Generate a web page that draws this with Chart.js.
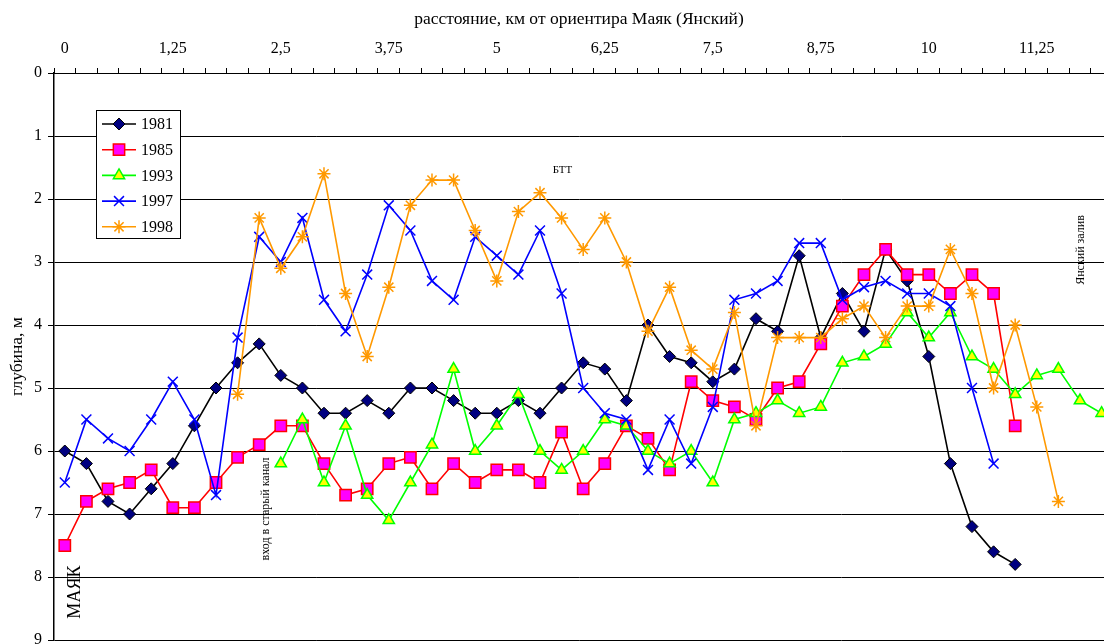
<!DOCTYPE html>
<html>
<head>
<meta charset="utf-8">
<script src="https://cdn.jsdelivr.net/npm/chart.js@4/dist/chart.umd.min.js"></script>
<style>
    html, body { margin: 0; padding: 0; background: #fff; overflow: hidden; }
    #marco { width: 1104px; height: 644px; overflow: hidden; }
</style>
</head>
<body>
<div id="marco"><canvas id="grafico" width="1104" height="644"></canvas></div>
<script>
// distancia desde el faro, km (una muestra cada 0,25 km)
const distancias = [0, 0.25, 0.5, 0.75, 1, 1.25, 1.5, 1.75, 2, 2.25,
    2.5, 2.75, 3, 3.25, 3.5, 3.75, 4, 4.25, 4.5, 4.75,
    5, 5.25, 5.5, 5.75, 6, 6.25, 6.5, 6.75, 7, 7.25,
    7.5, 7.75, 8, 8.25, 8.5, 8.75, 9, 9.25, 9.5, 9.75,
    10, 10.25, 10.5, 10.75, 11, 11.25, 11.5, 11.75, 12];

const valoresX = [0, 1.25, 2.5, 3.75, 5, 6.25, 7.5, 8.75, 10, 11.25];
const etiquetasX = ['0', '1,25', '2,5', '3,75', '5', '6,25', '7,5', '8,75', '10', '11,25'];

const anios = ['1981', '1985', '1993', '1997', '1998'];

// profundidad, m
const prof1981 = [6.0, 6.2, 6.8, 7.0, 6.6, 6.2, 5.6, 5.0, 4.6, 4.3,
    4.8, 5.0, 5.4, 5.4, 5.2, 5.4, 5.0, 5.0, 5.2, 5.4,
    5.4, 5.2, 5.4, 5.0, 4.6, 4.7, 5.2, 4.0, 4.5, 4.6,
    4.9, 4.7, 3.9, 4.1, 2.9, 4.2, 3.5, 4.1, 2.8, 3.3,
    4.5, 6.2, 7.2, 7.6, 7.8];

const prof1985 = [7.5, 6.8, 6.6, 6.5, 6.3, 6.9, 6.9, 6.5, 6.1, 5.9,
    5.6, 5.6, 6.2, 6.7, 6.6, 6.2, 6.1, 6.6, 6.2, 6.5,
    6.3, 6.3, 6.5, 5.7, 6.6, 6.2, 5.6, 5.8, 6.3, 4.9,
    5.2, 5.3, 5.5, 5.0, 4.9, 4.3, 3.7, 3.2, 2.8, 3.2,
    3.2, 3.5, 3.2, 3.5, 5.6];

const prof1993 = [null, null, null, null, null, null, null, null, null, null,
    6.2, 5.5, 6.5, 5.6, 6.7, 7.1, 6.5, 5.9, 4.7, 6.0,
    5.6, 5.1, 6.0, 6.3, 6.0, 5.5, 5.6, 6.0, 6.2, 6.0,
    6.5, 5.5, 5.4, 5.2, 5.4, 5.3, 4.6, 4.5, 4.3, 3.8,
    4.2, 3.8, 4.5, 4.7, 5.1, 4.8, 4.7, 5.2, 5.4];

const prof1997 = [6.5, 5.5, 5.8, 6.0, 5.5, 4.9, 5.5, 6.7, 4.2, 2.6,
    3.0, 2.3, 3.6, 4.1, 3.2, 2.1, 2.5, 3.3, 3.6, 2.6,
    2.9, 3.2, 2.5, 3.5, 5.0, 5.4, 5.5, 6.3, 5.5, 6.2,
    5.3, 3.6, 3.5, 3.3, 2.7, 2.7, 3.6, 3.4, 3.3, 3.5,
    3.5, 3.7, 5.0, 6.2];

const prof1998 = [null, null, null, null, null, null, null, null,
    5.1, 2.3, 3.1, 2.6, 1.6, 3.5, 4.5, 3.4, 2.1, 1.7,
    1.7, 2.5, 3.3, 2.2, 1.9, 2.3, 2.8, 2.3, 3.0, 4.1,
    3.4, 4.4, 4.7, 3.8, 5.6, 4.2, 4.2, 4.2, 3.9, 3.7,
    4.2, 3.7, 3.7, 2.8, 3.5, 5.0, 4.0, 5.3, 6.8];

const series = [prof1981, prof1985, prof1993, prof1997, prof1998];

const estilos = [
    { linea: '#000000', relleno: '#000080', borde: '#000000', punto: 'rectRot', radio: 6, bordePunto: 1 },
    { linea: '#ff0000', relleno: '#ff00ff', borde: '#ff0000', punto: 'rect', radio: 8, bordePunto: 1.5 },
    { linea: '#00ff00', relleno: '#ffff00', borde: '#00ff00', punto: 'triangle', radio: 6.5, bordePunto: 1.5 },
    { linea: '#0000ff', relleno: '#0000ff', borde: '#0000ff', punto: 'crossRot', radio: 7, bordePunto: 1.5 },
    { linea: '#ff9900', relleno: '#ff9900', borde: '#ff9900', punto: 'star', radio: 6.5, bordePunto: 1.5 }
];

const fuente = 'Liberation Serif, Times New Roman, serif';
Chart.defaults.font.family = fuente;
Chart.defaults.color = '#000';

const conjuntos = series.map((serie, i) => ({
    label: anios[i],
    data: distancias.map((d, j) => ({ x: d, y: serie[j] ?? null })),
    borderColor: estilos[i].linea,
    borderWidth: 1.6,
    backgroundColor: estilos[i].relleno,
    pointStyle: estilos[i].punto,
    pointRadius: estilos[i].radio,
    pointBackgroundColor: estilos[i].relleno,
    pointBorderColor: estilos[i].borde,
    pointBorderWidth: estilos[i].bordePunto,
    tension: 0,
    spanGaps: false,
    order: series.length - i
}));

// textos sueltos sobre el grafico (coordenadas en km / m)
const notas = {
    id: 'notas',
    afterDatasetsDraw(chart) {
        const ctx = chart.ctx;
        const sx = chart.scales.x;
        const sy = chart.scales.y;
        const textos = [
            { t: 'БТТ', x: 5.76, y: 1.54, size: 11, rot: 0 },
            { t: 'Янский залив', x: 11.76, y: 2.81, size: 12, rot: -Math.PI / 2 },
            { t: 'вход в старый канал', x: 2.33, y: 6.92, size: 12, rot: -Math.PI / 2 },
            { t: 'МАЯК', x: 0.12, y: 8.24, size: 18, rot: -Math.PI / 2 }
        ];
        ctx.save();
        ctx.fillStyle = '#000';
        ctx.textAlign = 'center';
        ctx.textBaseline = 'middle';
        textos.forEach(n => {
            ctx.save();
            ctx.translate(sx.getPixelForValue(n.x), sy.getPixelForValue(n.y));
            ctx.rotate(n.rot);
            ctx.font = n.size + 'px ' + fuente;
            ctx.fillText(n.t, 0, 0);
            ctx.restore();
        });
        ctx.restore();
    }
};

// leyenda dentro del area del grafico
const leyenda = {
    id: 'leyenda',
    afterDraw(chart) {
        const ctx = chart.ctx;
        const x0 = 96, y0 = 110, ancho = 84, alto = 128;
        ctx.save();
        ctx.fillStyle = '#fff';
        ctx.fillRect(x0, y0, ancho, alto);
        ctx.strokeStyle = '#000';
        ctx.lineWidth = 1;
        ctx.strokeRect(x0 + 0.5, y0 + 0.5, ancho, alto);
        ctx.font = '16px ' + fuente;
        ctx.textBaseline = 'middle';
        anios.forEach((anio, i) => {
            const y = 124 + i * 25.7;
            const e = estilos[i];
            ctx.strokeStyle = e.linea;
            ctx.lineWidth = 1.6;
            ctx.beginPath();
            ctx.moveTo(102, y);
            ctx.lineTo(136, y);
            ctx.stroke();
            ctx.fillStyle = e.relleno;
            ctx.strokeStyle = e.borde;
            ctx.lineWidth = e.bordePunto;
            Chart.helpers.drawPoint(ctx, { pointStyle: e.punto, radius: e.radio, rotation: 0, borderWidth: e.bordePunto }, 119, y);
            ctx.fillStyle = '#000';
            ctx.fillText(anio, 141, y + 1);
        });
        ctx.restore();
    }
};

new Chart(document.getElementById('grafico'), {
    type: 'line',
    data: { datasets: conjuntos },
    plugins: [notas, leyenda],
    options: {
        responsive: false,
        animation: false,
        events: [],
        layout: { autoPadding: false, padding: { top: 0, left: 0, right: 0, bottom: 4 } },
        plugins: {
            legend: { display: false },
            tooltip: { enabled: false }
        },
        scales: {
            x: {
                type: 'linear',
                position: 'top',
                min: -0.125,
                max: 12.028,
                afterBuildTicks(scale) {
                    const marcas = [];
                    for (let k = 0; k <= 97; k++) {
                        marcas.push({ value: -0.125 + k * 0.125 });
                    }
                    scale.ticks = marcas;
                },
                afterFit(scale) {
                    scale.height = 73;
                    scale.paddingLeft = 0;
                    scale.paddingRight = 0;
                },
                ticks: {
                    autoSkip: false,
                    maxRotation: 0,
                    padding: 10,
                    font: { size: 16 },
                    callback(valor) {
                        const i = valoresX.findIndex(v => Math.abs(v - valor) < 0.01);
                        return i >= 0 ? etiquetasX[i] : '';
                    }
                },
                grid: {
                    drawOnChartArea: false,
                    drawTicks: true,
                    tickLength: 5,
                    color: 'rgba(0,0,0,0)',
                    tickColor: (c) => (c.index % 2 === 0 ? '#000' : 'rgba(0,0,0,0)'),
                    tickWidth: 1
                },
                border: { display: true, color: '#000', width: 1 },
                title: {
                    display: true,
                    text: 'расстояние, км от ориентира Маяк (Янский)',
                    font: { size: 17.5 },
                    padding: { top: 9, bottom: 0 }
                }
            },
            y: {
                type: 'linear',
                reverse: true,
                min: 0,
                max: 9,
                afterFit(scale) {
                    scale.width = 54;
                    scale.paddingTop = 0;
                    scale.paddingBottom = 0;
                },
                ticks: {
                    stepSize: 1,
                    padding: 6,
                    font: { size: 16 }
                },
                grid: {
                    color: '#000',
                    lineWidth: 1,
                    tickLength: 6
                },
                border: { display: true, color: '#000', width: 1.5 },
                title: {
                    display: true,
                    text: 'глубина, м',
                    font: { size: 17.5 },
                    padding: { top: 7, bottom: 0 }
                }
            }
        }
    }
});
</script>
</body>
</html>
